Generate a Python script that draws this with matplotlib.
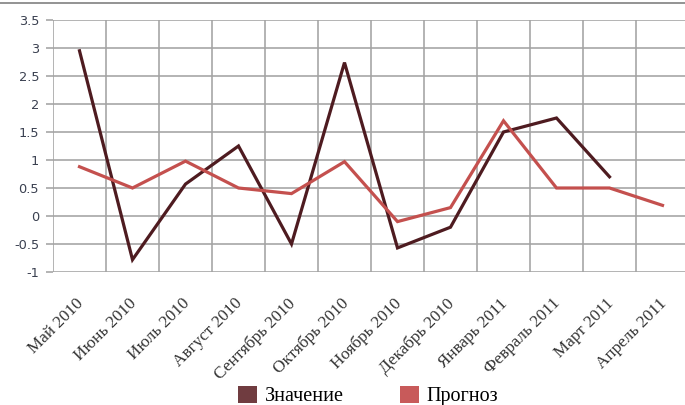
import matplotlib
matplotlib.use("Agg")
import matplotlib.pyplot as plt
import matplotlib.transforms as mtransforms
import numpy as np
from matplotlib.patches import Patch
from matplotlib.lines import Line2D

categories = ["Май 2010", "Июнь 2010", "Июль 2010", "Август 2010", "Сентябрь 2010",
              "Октябрь 2010", "Ноябрь 2010", "Декабрь 2010", "Январь 2011",
              "Февраль 2011", "Март 2011", "Апрель 2011"]
znachenie = [2.95, -0.78, 0.57, 1.25, -0.5, 2.74, -0.57, -0.2, 1.5, 1.75, 0.7, np.nan]
prognoz = [0.88, 0.5, 0.98, 0.5, 0.4, 0.97, -0.1, 0.15, 1.7, 0.5, 0.5, 0.19]
yticks = [-1, -0.5, 0, 0.5, 1, 1.5, 2, 2.5, 3, 3.5]
ytick_labels = ["-1", "-0.5", "0", "0.5", "1", "1.5", "2", "2.5", "3", "3.5"]

fig = plt.figure(figsize=(6.85, 4.05), dpi=100)
W, H = 685, 405
left, right, top, bottom = 53, 689, 20, 272
ax = fig.add_axes([left / W, 1 - bottom / H, (right - left) / W, (bottom - top) / H])

x = np.arange(len(categories))
dark = "#4e1b20"
red = "#c4504e"
ax.plot(x, znachenie, color=dark, lw=2.3, solid_joinstyle="miter", zorder=3)
ax.plot(x, prognoz, color=red, lw=2.3, solid_joinstyle="miter", zorder=3)

ax.set_xlim(-0.5, len(categories) - 0.5)
ax.set_ylim(-1, 3.5)
grid_c = "#a3a3a3"
for b in np.arange(-0.5, len(categories), 1.0):
    ax.axvline(b, color=grid_c, lw=1.15, zorder=1)
for t in yticks:
    ax.axhline(t, color=grid_c, lw=1.15, zorder=1)
for s in ax.spines.values():
    s.set_visible(False)

ax.set_yticks(yticks)
ax.set_yticklabels(ytick_labels, fontfamily="DejaVu Sans", fontsize=9.3, color="#3a4050")
ax.tick_params(axis="y", length=5, width=1.15, color=grid_c, pad=5)
ax.set_xticks(x)
ax.set_xticklabels(categories, rotation=45, ha="right", rotation_mode="anchor",
                   fontfamily="Liberation Serif", fontsize=12.3, color="#333333")
ax.tick_params(axis="x", length=0, pad=17)
shift = mtransforms.ScaledTranslation(-4 / 100, 0, fig.dpi_scale_trans)
for lab in ax.get_xticklabels():
    lab.set_transform(lab.get_transform() + shift)

fig.add_artist(Line2D([0, 1], [1 - 3 / H, 1 - 3 / H], color="#808080", lw=1.2))

handles = [Patch(facecolor="#703c40", edgecolor="none"), Patch(facecolor="#c85a5a", edgecolor="none")]
fig.legend(handles, ["Значение", "Прогноз"], loc="center", bbox_to_anchor=(368 / W, 1 - 396 / H),
           ncol=2, frameon=False, prop={"family": "Liberation Serif", "size": 14.5},
           handlelength=0.95, handleheight=0.95, columnspacing=2.8, handletextpad=0.35,
           borderpad=0, borderaxespad=0)

fig.savefig("out.png", dpi=100)
